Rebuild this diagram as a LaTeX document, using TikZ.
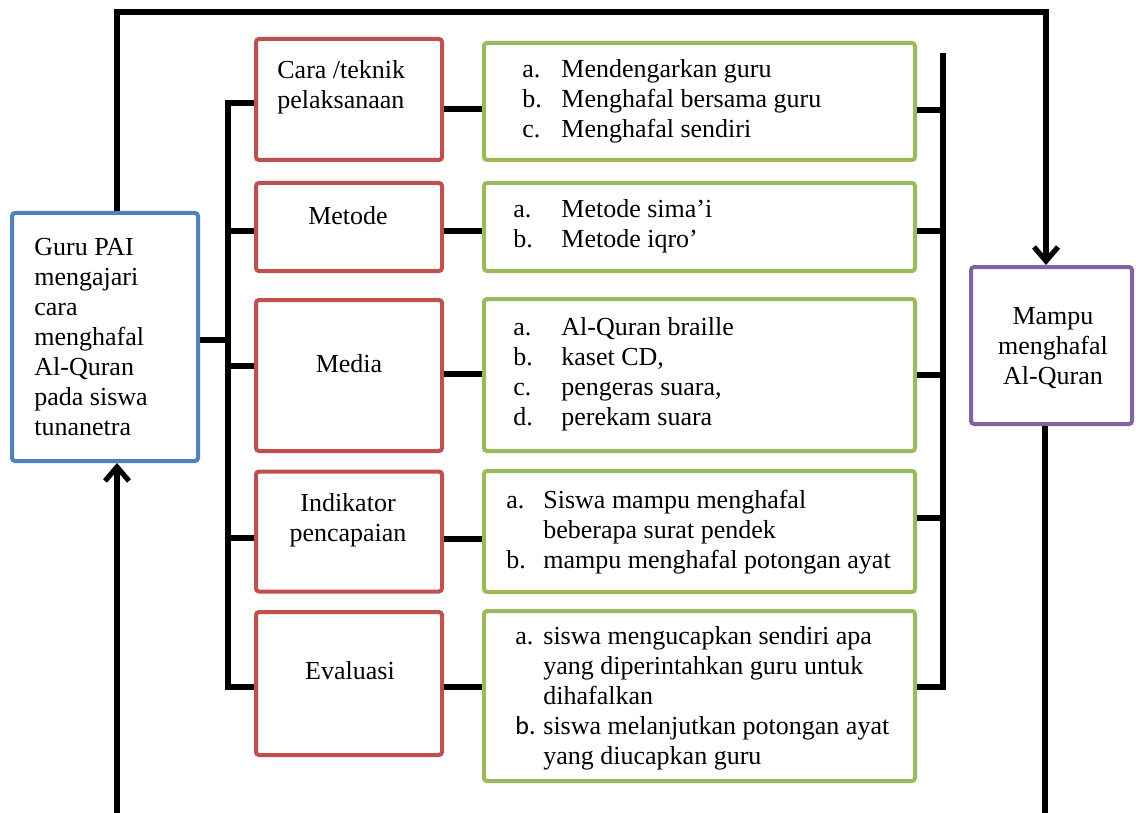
\documentclass[tikz,border=0pt]{standalone}
\usepackage{fontspec}
\setmainfont{Liberation Serif}
\newfontfamily\calibrifont{Carlito}
\usepackage{xcolor}
\usetikzlibrary{arrows.meta, positioning}
\usetikzlibrary{calc}

\definecolor{gurublue}{HTML}{4F81BD}
\definecolor{aspectred}{HTML}{C0504D}
\definecolor{detailgreen}{HTML}{9BBB59}
\definecolor{resultpurple}{HTML}{8064A2}

\begin{document}
\begin{tikzpicture}[x=0.5pt, y=-0.5pt,
    box/.style={draw, line width=2pt, rounded corners=1.5pt, fill=white},
    aspect/.style={box, draw=aspectred, minimum width=93pt},
    detail/.style={box, draw=detailgreen, minimum width=215.5pt},
    txt/.style={inner sep=0pt, font=\fontsize{13}{15}\selectfont},
    link/.style={line width=2.6pt},
    flow/.style={link, -{Straight Barb[length=7pt,width=12pt]}}]
    \useasboundingbox (0,0) rectangle (1136,813);

    % start and goal
    \node[box, draw=gurublue, minimum width=93pt, minimum height=124pt] (guru) at (105,337) {};
    \node[box, draw=resultpurple, minimum width=80.5pt, minimum height=78.5pt] (mampu) at (1051.5,345.5) {};
    \node[txt, anchor=west, align=left] (gurutext) at (34,337) {Guru PAI\\mengajari\\cara\\menghafal\\Al-Quran\\pada siswa\\tunanetra};
    \node[txt, align=center] (mamputext) at (1053,348) {Mampu\\menghafal\\Al-Quran};

    % aspects (red)
    \node[aspect, minimum height=60.5pt] (r1) at (349,99.5) {};
    \node[aspect, minimum height=44pt] (r2) at (349,227) {};
    \node[aspect, minimum height=75.5pt] (r3) at (349,375.5) {};
    \node[aspect, minimum height=60pt] (r4) at (349,531.5) {};
    \node[aspect, minimum height=71.5pt] (r5) at (349,683.5) {};
    \node[txt, anchor=west, align=left] (r1text) at (277,87) {Cara /teknik\\pelaksanaan};
    \node[txt] (r2text) at (348,216) {Metode};
    \node[txt] (r3text) at (349,364) {Media};
    \node[txt, align=center] (r4text) at (348,520) {Indikator\\pencapaian};
    \node[txt] (r5text) at (350,671) {Evaluasi};

    % details (green)
    \node[detail, minimum height=58.5pt] (g1) at (699.5,101.5) {};
    \node[detail, minimum height=44pt] (g2) at (699.5,227) {};
    \node[detail, minimum height=76pt] (g3) at (699.5,375) {};
    \node[detail, minimum height=60.5pt] (g4) at (699.5,531.5) {};
    \node[detail, minimum height=85pt] (g5) at (699.5,696) {};
    \node[txt, anchor=west] (g1text) at (522,102) {\begin{tabular}{@{}p{19.5pt}@{}l@{}}
        a. & Mendengarkan guru\\
        b. & Menghafal bersama guru\\
        c. & Menghafal sendiri
    \end{tabular}};
    \node[txt, anchor=west] (g2text) at (513,227) {\begin{tabular}{@{}p{24pt}@{}l@{}}
        a. & Metode sima’i\\
        b. & Metode iqro’
    \end{tabular}};
    \node[txt, anchor=west] (g3text) at (513,374) {\begin{tabular}{@{}p{24pt}@{}l@{}}
        a. & Al-Quran braille\\
        b. & kaset CD,\\
        c. & pengeras suara,\\
        d. & perekam suara
    \end{tabular}};
    \node[txt, anchor=west] (g4text) at (506,532) {\begin{tabular}{@{}p{18.5pt}@{}l@{}}
        a. & Siswa mampu menghafal\\
           & beberapa surat pendek\\
        b. & mampu menghafal potongan ayat
    \end{tabular}};
    \node[txt, anchor=west] (g5text) at (515,698) {\begin{tabular}{@{}p{14pt}@{}l@{}}
        a. & siswa mengucapkan sendiri apa\\
           & yang diperintahkan guru untuk\\
           & dihafalkan\\
        {\calibrifont b.} & siswa melanjutkan potongan ayat\\
           & yang diucapkan guru
    \end{tabular}};

    % left bus
    \coordinate (busLtop) at (228,103);
    \coordinate (busLbot) at (228,687);
    \draw[link] (r1.west |- busLtop) -- (busLtop) -- (busLbot) -- (r5.west |- busLbot);
    \draw[link] (guru.east |- 0,340) -- (busLtop |- 0,340);
    \foreach \n/\y in {r2/231, r3/366, r4/538}
        \draw[link] (\n.west |- 0,\y) -- (busLtop |- 0,\y);

    % red to green
    \foreach \n/\y in {1/109, 2/231, 3/374, 4/539, 5/687}
        \draw[link] (r\n.east |- 0,\y) -- (g\n.west |- 0,\y);

    % right bus
    \coordinate (busRtop) at (943,53);
    \coordinate (busRbot) at (943,687);
    \draw[link] (busRtop) -- (busRbot) -- (g5.east |- busRbot);
    \foreach \n/\y in {1/110, 2/231, 3/375, 4/518}
        \draw[link] (g\n.east |- 0,\y) -- (busRtop |- 0,\y);

    % outer loop
    \coordinate (topL) at (117,12);
    \coordinate (topR) at (1046,12);
    \coordinate (botL) at (117,816);
    \coordinate (botR) at (1045,816);
    \draw[flow] (guru.north -| topL) -- (topL) -- (topR) -- (mampu.north -| topR);
    \draw[flow] (mampu.south -| botR) -- (botR) -- (botL) -- (guru.south -| botL);
\end{tikzpicture}
\end{document}
